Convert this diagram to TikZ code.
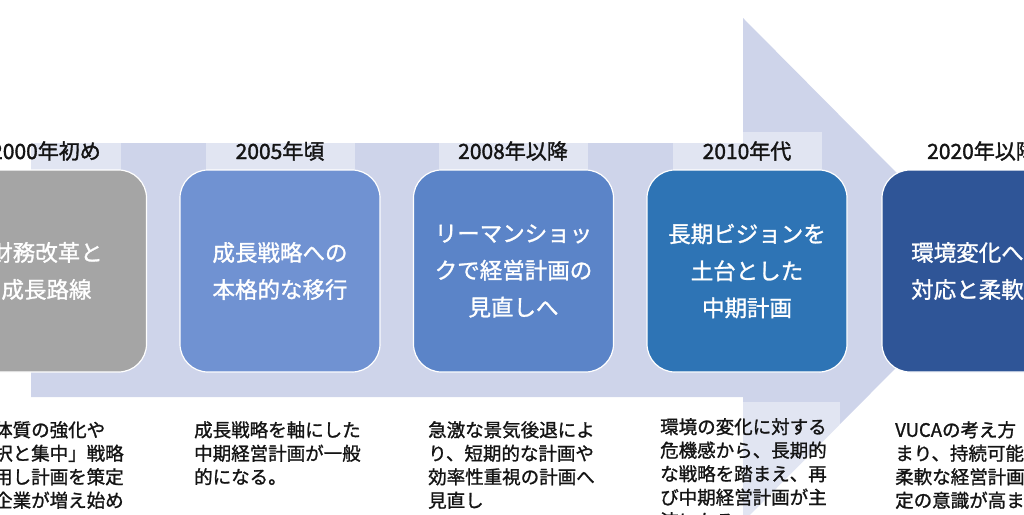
\documentclass[tikz,border=0pt]{standalone}
\usepackage{fontspec}
\setmainfont{Noto Sans CJK JP}
\newfontfamily\jpmed{Noto Sans CJK JP}[FakeBold=1.2]
\newfontfamily\jplbl{Noto Sans CJK JP}[FakeBold=1.6]
\definecolor{arrowc}{RGB}{206,212,234}
\definecolor{cgray}{RGB}{165,165,165}
\definecolor{cblueA}{RGB}{112,146,210}
\definecolor{cblueB}{RGB}{91,132,200}
\definecolor{cblueC}{RGB}{46,116,181}
\definecolor{cblueD}{RGB}{47,85,151}
\definecolor{txt}{RGB}{20,20,20}
\tikzset{
  stagebox/.style={draw=white, line width=1.2pt, rounded corners=28pt, minimum width=200pt, minimum height=202pt, inner sep=0pt},
  stagetext/.style={text=white, align=center, inner sep=0pt, font=\jpmed\fontsize{22.5}{37}\selectfont},
  yearlbl/.style={text=txt, inner sep=0pt, font=\jplbl\fontsize{21}{24}\selectfont},
  desctext/.style={text=txt, align=left, anchor=north west, inner sep=0pt, font=\jpmed\fontsize{18.5}{23.5}\selectfont},
  veil/.style={fill=white, opacity=0.4},
}
\begin{document}
\begin{tikzpicture}[x=1pt,y=-1pt]
\useasboundingbox (0,0) rectangle (1024,514);
\clip (0,0) rectangle (1024,514);
% big arrow
\fill[arrowc] (31,143) -- (743,143) -- (743,18) -- (993,270) -- (743,522) -- (743,397) -- (31,397) -- cycle;
% label and description backgrounds
\foreach \k in {0,...,4}{
  \fill[veil] (-28+233.5*\k,132) rectangle +(149,40);
  \fill[veil] (-48.5+233.5*\k,402) rectangle +(188,118);
}
% stage boxes
\node[stagebox, fill=cgray]  (b1) at (46.5,271) {};
\node[stagebox, fill=cblueA] (b2) at (280,271) {};
\node[stagebox, fill=cblueB] (b3) at (513.5,271) {};
\node[stagebox, fill=cblueC] (b4) at (747,271) {};
\node[stagebox, fill=cblueD] (b5) at (982,271) {};
% stage texts
\node[stagetext] (t1) at (b1) {財務改革と\\成長路線};
\node[stagetext] (t2) at (b2) {成長戦略への\\本格的な移行};
\node[stagetext] (t3) at (b3) {リーマンショッ\\クで経営計画の\\見直しへ};
\node[stagetext] (t4) at (b4) {長期ビジョンを\\土台とした\\中期計画};
\node[stagetext, align=left, anchor=west] (t5) at (911,271) {環境変化へ\\対応と柔軟};
% year labels
\node[yearlbl] (y1) at (46,151) {2000年初め};
\node[yearlbl] (y2) at (280,151) {2005年頃};
\node[yearlbl] (y3) at (513,151) {2008年以降};
\node[yearlbl] (y4) at (747,151) {2010年代};
\node[yearlbl] (y5) at (982,151) {2020年以降};
% descriptions
\node[desctext] (d1) at (-6,421) {体質の強化や\\択と集中」戦略\\用し計画を策定\\企業が増え始め};
\node[desctext] (d2) at (194,421) {成長戦略を軸にした\\中期経営計画が一般\\的になる。};
\node[desctext] (d3) at (428,421) {急激な景気後退によ\\り、短期的な計画や\\効率性重視の計画へ\\見直し};
\node[desctext] (d4) at (660,418) {環境の変化に対する\\危機感から、長期的\\な戦略を踏まえ、再\\び中期経営計画が主\\流になる。};
\node[desctext] (d5) at (895,421) {VUCAの考え方\\まり、持続可能\\柔軟な経営計画\\定の意識が高ま};
\end{tikzpicture}
\end{document}
